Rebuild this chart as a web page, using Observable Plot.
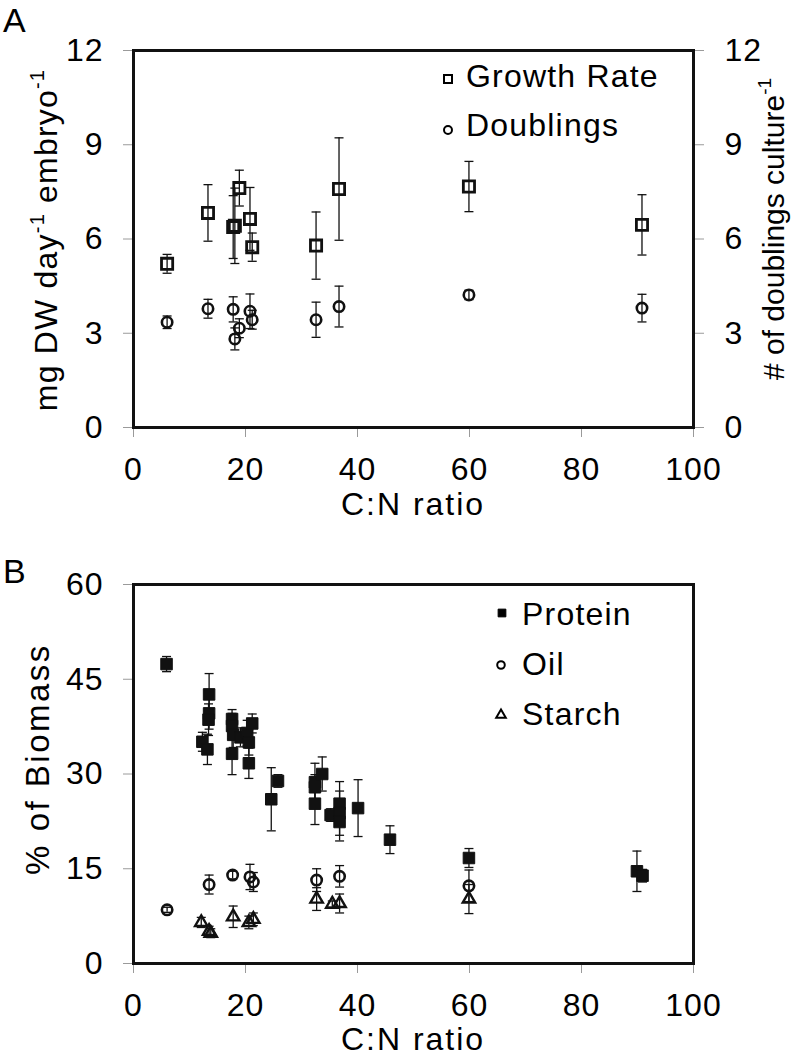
<!DOCTYPE html>
<html><head><meta charset="utf-8">
<script src="https://cdn.jsdelivr.net/npm/d3@7"></script>
<script src="https://cdn.jsdelivr.net/npm/@observablehq/plot@0.6"></script>
<style>
body{margin:0;background:#fff;}
#chart{width:797px;}
#chart svg{display:block;}
</style></head><body><div id="chart"></div>
<script>
const FONT = "'Liberation Sans', Arial, Helvetica, sans-serif";

// ---------- Panel A data ----------
const cnRatioA     = [6.0, 13.3, 17.8, 18.1, 18.9, 20.8, 21.2, 32.6, 36.7, 59.9, 90.8];
const growthRate   = [5.21, 6.83, 6.38, 6.42, 7.62, 6.64, 5.74, 5.79, 7.59, 7.67, 6.45];
const growthErr    = [0.3, 0.9, 1.0, 1.2, 0.57, 1.0, 0.45, 1.07, 1.63, 0.8, 0.96];
const doublings    = [3.35, 3.78, 3.76, 2.82, 3.16, 3.70, 3.43, 3.43, 3.85, 4.22, 3.80];
const doublingsErr = [0.2, 0.3, 0.4, 0.35, 0.3, 0.55, 0.3, 0.56, 0.65, 0.15, 0.44];
const ticksXA = [0, 20, 40, 60, 80, 100];
const ticksYA = [0, 3, 6, 9, 12];

// ---------- Panel B data ----------
const proteinX   = [5.9, 13.5, 13.5, 13.4, 12.3, 13.2, 17.6, 17.6, 17.8, 17.6, 19.1, 20.3, 20.6, 21.2, 20.6, 24.6, 25.8, 32.4, 32.4, 32.4, 33.7, 35.2, 36.8, 36.8, 36.8, 40.1, 45.8, 59.9, 89.9, 90.9];
const proteinY   = [47.4, 42.6, 39.6, 38.6, 35.1, 33.9, 38.7, 37.6, 36.2, 33.2, 35.8, 36.5, 35.0, 38.0, 31.7, 26.0, 28.9, 28.7, 27.9, 25.3, 30.0, 23.5, 25.3, 23.8, 22.4, 24.6, 19.6, 16.7, 14.6, 13.9];
const proteinErr = [1.2, 3.3, 2.5, 2.5, 1.5, 2.4, 1.5, 2.0, 2.0, 3.3, 1.5, 2.0, 2.0, 1.5, 2.4, 5.0, 1.0, 3.0, 2.0, 3.3, 2.7, 1.0, 3.5, 3.5, 3.0, 4.5, 2.2, 1.5, 3.2, 1.0];
const oilX   = [6.0, 13.5, 17.7, 20.8, 21.4, 32.7, 36.8, 59.9];
const oilY   = [8.5, 12.5, 14.0, 13.7, 12.9, 13.2, 13.8, 12.3];
const oilErr = [0.4, 1.5, 0.6, 2.0, 1.5, 1.8, 1.7, 2.5];
const starchX   = [12.1, 13.5, 13.8, 17.8, 20.6, 21.4, 32.7, 35.5, 36.8, 59.9];
const starchY   = [6.5, 5.1, 4.8, 7.4, 6.5, 7.0, 10.2, 9.4, 9.5, 10.2];
const starchErr = [0.8, 0.8, 0.7, 1.7, 1.0, 1.0, 1.8, 0.5, 1.5, 2.3];
const ticksXB = [0, 20, 40, 60, 80, 100];
const ticksYB = [0, 15, 30, 45, 60];

// ---------- helpers ----------
const table = (xs, ys, es) => xs.map((x, i) => ({x, y: ys[i], e: es[i]}));
const capSymbol = {draw(ctx) { ctx.moveTo(-4.5, 0); ctx.lineTo(4.5, 0); }};

function seriesMarks(data, dotOpts) {
  return [
    Plot.ruleX(data, {x: "x", y1: d => d.y - d.e, y2: d => d.y + d.e, stroke: "#111", strokeWidth: 1.3}),
    Plot.dot(data, {x: "x", y: d => d.y + d.e, symbol: capSymbol, stroke: "#111", strokeWidth: 1.3}),
    Plot.dot(data, {x: "x", y: d => d.y - d.e, symbol: capSymbol, stroke: "#111", strokeWidth: 1.3}),
    Plot.dot(data, {x: "x", y: "y", ...dotOpts})
  ];
}

function axes(xt, yt, right) {
  const common = {tickSize: 10, stroke: "#9a9a9a", fill: "black", label: null};
  const m = [
    Plot.axisX({...common, ticks: xt, tickPadding: 20, tickFormat: d => d}),
    Plot.axisY({...common, ticks: yt, tickPadding: 20, anchor: "left", tickFormat: d => d})
  ];
  if (right) m.push(Plot.axisY({...common, ticks: yt, tickPadding: 21, anchor: "right", tickFormat: d => d}));
  return m;
}

function addText(svg, x, y, parts, opts = {}) {
  const size = opts.size || 32;
  const t = d3.select(svg).append("text")
    .attr("font-family", FONT)
    .attr("font-size", size)
    .attr("letter-spacing", opts.spacing ?? 1.2)
    .attr("fill", "black")
    .attr("text-anchor", opts.anchor || "start")
    .attr("transform", `translate(${x},${y})` + (opts.rotate ? ` rotate(${opts.rotate})` : ""));
  let back = 0;
  for (const p of parts) {
    if (typeof p === "string") {
      const s = t.append("tspan").text(p);
      if (back) { s.attr("dy", back); back = 0; }
    } else {
      t.append("tspan").attr("font-size", Math.round(size * 0.62)).attr("dy", -13).text(p.sup);
      back = 13;
    }
  }
  return t;
}

function legendSymbol(svg, x, y, type, size, filled) {
  d3.select(svg).append("path")
    .attr("transform", `translate(${x},${y})`)
    .attr("d", d3.symbol(type, size)())
    .attr("fill", filled ? "black" : "none")
    .attr("stroke", "black")
    .attr("stroke-width", filled ? 1 : 2);
}

const root = document.getElementById("chart");
const plotStyle = {fontFamily: FONT, fontSize: "32px", letterSpacing: "1px", background: "white", overflow: "visible"};

// ---------- Panel A ----------
const growthData = table(cnRatioA, growthRate, growthErr);
const doublingData = table(cnRatioA, doublings, doublingsErr);

const svgA = Plot.plot({
  width: 797, height: 530,
  marginLeft: 133, marginRight: 104, marginTop: 50, marginBottom: 103,
  style: plotStyle,
  x: {domain: [0, 100]},
  y: {domain: [0, 12]},
  marks: [
    ...axes(ticksXA, ticksYA, true),
    Plot.frame({stroke: "#111", strokeWidth: 3}),
    ...seriesMarks(growthData, {symbol: "square", r: 6.3, stroke: "#111", strokeWidth: 2.8, fill: "none"}),
    ...seriesMarks(doublingData, {symbol: "circle", r: 5.2, stroke: "#111", strokeWidth: 2.6, fill: "none"})
  ]
});
root.appendChild(svgA);
addText(svgA, 3, 32, ["A"], {size: 34, spacing: 0});
addText(svgA, 57, 240, ["mg DW day", {sup: "-1"}, " embryo", {sup: "-1"}], {rotate: -90, anchor: "middle"});
addText(svgA, 784, 229, ["# of doublings culture", {sup: "-1"}], {rotate: -90, anchor: "middle", size: 30, spacing: 0});
addText(svgA, 413, 515, ["C:N ratio"], {anchor: "middle", spacing: 2});
legendSymbol(svgA, 448, 79, d3.symbolSquare, 64, false);
legendSymbol(svgA, 448, 130, d3.symbolCircle, 50, false);
addText(svgA, 466, 87, ["Growth Rate"]);
addText(svgA, 466, 136, ["Doublings"]);

// ---------- Panel B ----------
const proteinData = table(proteinX, proteinY, proteinErr);
const oilData = table(oilX, oilY, oilErr);
const starchData = table(starchX, starchY, starchErr);

const svgB = Plot.plot({
  width: 797, height: 529,
  marginLeft: 133, marginRight: 104, marginTop: 54, marginBottom: 96,
  style: plotStyle,
  x: {domain: [0, 100]},
  y: {domain: [0, 60]},
  marks: [
    ...axes(ticksXB, ticksYB, false),
    Plot.frame({stroke: "#111", strokeWidth: 3}),
    ...seriesMarks(starchData, {symbol: "triangle", r: 4.6, stroke: "#111", strokeWidth: 2.4, fill: "none"}),
    ...seriesMarks(oilData, {symbol: "circle", r: 5.2, stroke: "#111", strokeWidth: 2.6, fill: "none"}),
    ...seriesMarks(proteinData, {symbol: "square", r: 6.5, stroke: "#111", strokeWidth: 1, fill: "#111"})
  ]
});
root.appendChild(svgB);
addText(svgB, 3, 53, ["B"], {size: 34, spacing: 0});
addText(svgB, 49, 229, ["% of Biomass"], {rotate: -90, anchor: "middle", size: 33, spacing: 2.5});
addText(svgB, 413, 520, ["C:N ratio"], {anchor: "middle", spacing: 2});
legendSymbol(svgB, 502, 83, d3.symbolSquare, 60, true);
legendSymbol(svgB, 501, 135, d3.symbolCircle, 45, false);
legendSymbol(svgB, 501, 185, d3.symbolTriangle, 40, false);
addText(svgB, 522, 95, ["Protein"]);
addText(svgB, 522, 145, ["Oil"]);
addText(svgB, 522, 195, ["Starch"]);
</script></body></html>
